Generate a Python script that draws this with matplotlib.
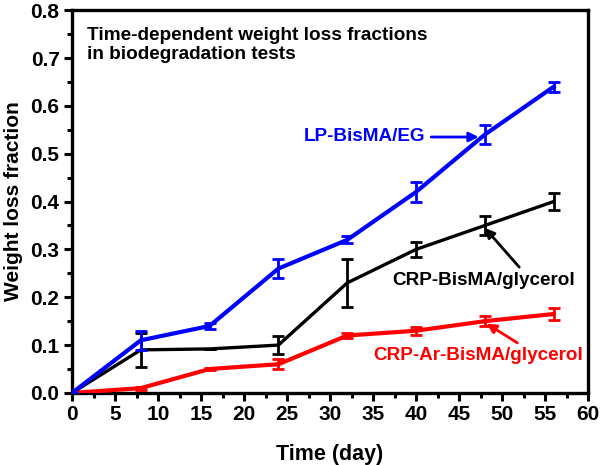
import matplotlib
matplotlib.use("Agg")
import matplotlib.pyplot as plt
from matplotlib.ticker import MultipleLocator

plt.rcParams['font.family'] = ['Liberation Sans', 'DejaVu Sans']
plt.rcParams['font.weight'] = 'bold'

days = [0, 8, 16, 24, 32, 40, 48, 56]
lp_eg = [0.0, 0.11, 0.14, 0.26, 0.32, 0.42, 0.54, 0.64]
lp_eg_err = [0.0, 0.02, 0.007, 0.02, 0.007, 0.02, 0.02, 0.01]
crp_gly = [0.0, 0.09, 0.092, 0.10, 0.23, 0.30, 0.35, 0.40]
crp_gly_err = [0.0, 0.035, 0.0, 0.018, 0.05, 0.015, 0.02, 0.017]
crp_ar = [0.0, 0.01, 0.05, 0.06, 0.12, 0.13, 0.15, 0.165]
crp_ar_err = [0.0, 0.003, 0.003, 0.01, 0.006, 0.008, 0.01, 0.012]

fig = plt.figure(figsize=(6.0, 4.65), dpi=100)
ax = fig.add_axes([0.12, 0.155, 0.86, 0.823])

ax.errorbar(days, crp_ar, yerr=crp_ar_err, color='#ff0000', lw=3.0, capsize=4, capthick=2, elinewidth=2, zorder=3)
ax.errorbar(days, crp_gly, yerr=crp_gly_err, color='black', lw=2.4, capsize=4, capthick=2, elinewidth=2, zorder=3)
ax.errorbar(days, lp_eg, yerr=lp_eg_err, color='#0000ff', lw=3.0, capsize=4, capthick=2, elinewidth=2, zorder=4)

ax.set_xlim(0, 60)
ax.set_ylim(0, 0.8)
ax.xaxis.set_major_locator(MultipleLocator(5))
ax.xaxis.set_minor_locator(MultipleLocator(2.5))
ax.yaxis.set_major_locator(MultipleLocator(0.1))
ax.yaxis.set_minor_locator(MultipleLocator(0.05))
ax.tick_params(which='major', direction='out', length=6, width=2.2, labelsize=15, pad=3)
ax.tick_params(which='minor', direction='out', length=3.5, width=2.2)
for lbl in ax.get_xticklabels() + ax.get_yticklabels():
    lbl.set_fontweight('bold')
for s in ax.spines.values():
    s.set_linewidth(2.4)

ax.set_xlabel('Time (day)', fontsize=15.5, fontweight='bold', labelpad=14)
ax.set_ylabel('Weight loss fraction', fontsize=15, fontweight='bold', labelpad=5)

ax.text(1.8, 0.764, 'Time-dependent weight loss fractions\nin biodegradation tests',
        fontsize=13.7, fontweight='bold', va='top', ha='left', linespacing=1.1)

ax.annotate('LP-BisMA/EG', xy=(47.6, 0.535), xytext=(27, 0.535),
            fontsize=13.6, fontweight='bold', color='#0000ff', va='center', ha='left',
            arrowprops=dict(arrowstyle='-|>', color='#0000ff', lw=2, mutation_scale=14))
ax.annotate('CRP-BisMA/glycerol', xy=(48, 0.345), xytext=(37.2, 0.235),
            fontsize=13.6, fontweight='bold', color='black', va='center', ha='left',
            arrowprops=dict(arrowstyle='-|>', color='black', lw=2, mutation_scale=14,
                            relpos=(0.72, 1.0), shrinkA=2, shrinkB=0))
ax.annotate('CRP-Ar-BisMA/glycerol', xy=(48.2, 0.145), xytext=(35.0, 0.078),
            fontsize=13.6, fontweight='bold', color='#ff0000', va='center', ha='left',
            arrowprops=dict(arrowstyle='-|>', color='#ff0000', lw=2, mutation_scale=14,
                            relpos=(0.72, 1.0), shrinkA=2, shrinkB=0))

fig.savefig('out.png', dpi=100)
